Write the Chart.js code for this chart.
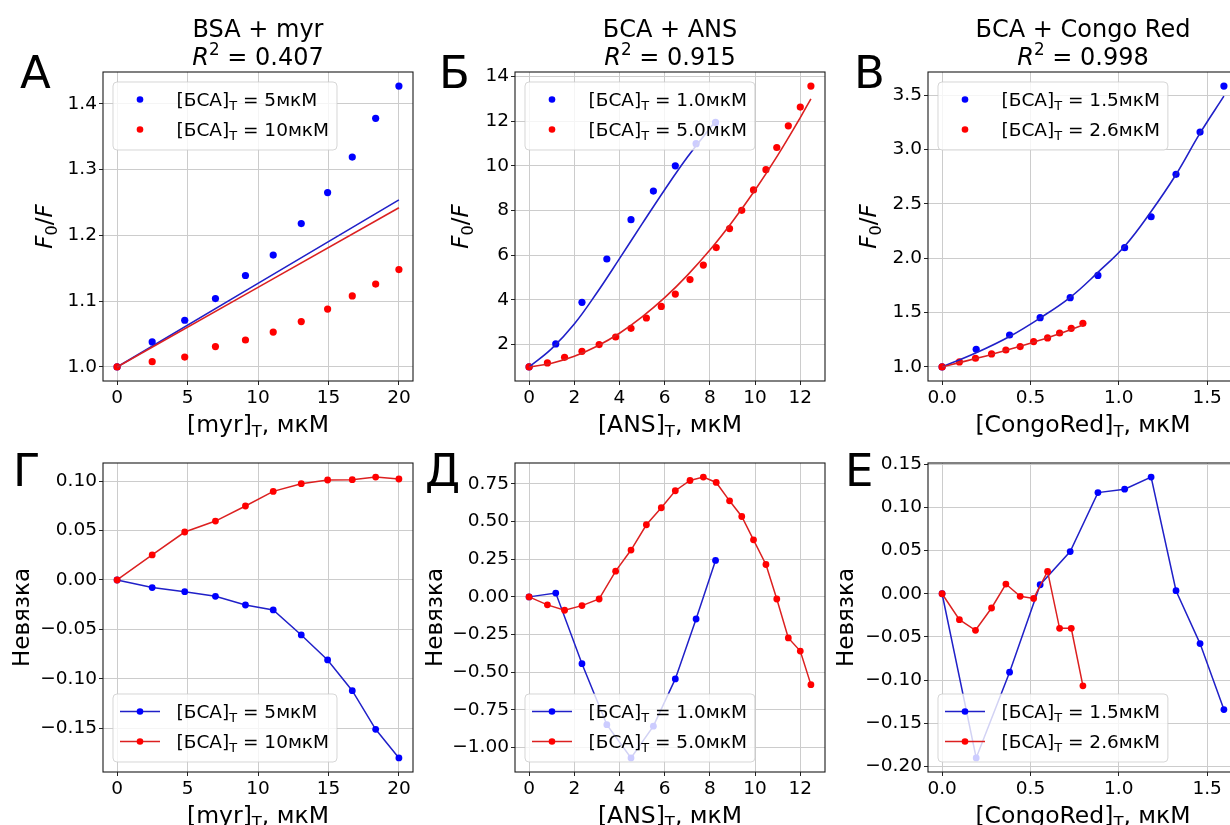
<!DOCTYPE html>
<html>
<head>
<meta charset="utf-8">
<script src="https://cdn.jsdelivr.net/npm/chart.js@4.4.1/dist/chart.umd.min.js"></script>
<style>
html, body { margin: 0; padding: 0; background: #ffffff; overflow: hidden; width: 1230px; height: 825px; }
#wrap { position: relative; width: 1250px; height: 825px; }
canvas { position: absolute; }
</style>
</head>
<body>
<div id="wrap">
<canvas id="cA"></canvas>
<canvas id="cB"></canvas>
<canvas id="cC"></canvas>
<canvas id="cD"></canvas>
<canvas id="cE"></canvas>
<canvas id="cF"></canvas>
</div>
<script>
// ---------- Panel А / Г : BSA + myr ----------
const myrX     = [0, 2.49, 4.80, 6.98, 9.11, 11.08, 13.07, 14.94, 16.69, 18.35, 20.0];
const myrF5    = [1.0, 1.038, 1.071, 1.104, 1.139, 1.170, 1.218, 1.265, 1.319, 1.378, 1.427];
const myrF10   = [1.0, 1.008, 1.015, 1.031, 1.041, 1.053, 1.069, 1.088, 1.108, 1.126, 1.148];
const myrFitX  = [0, 20];
const myrFit5  = [1.0, 1.254];
const myrFit10 = [1.0, 1.242];
const myrRes5  = [0, -0.0077, -0.0118, -0.0165, -0.0253, -0.0303, -0.0556, -0.0809, -0.112, -0.151, -0.180];
const myrRes10 = [0, 0.0253, 0.0485, 0.0596, 0.0748, 0.0896, 0.0974, 0.1011, 0.1014, 0.1041, 0.1021];

// ---------- Panel Б / Д : БСА + ANS ----------
const ansX1    = [0, 1.18, 2.34, 3.44, 4.51, 5.50, 6.47, 7.39, 8.25];
const ansF1    = [1.0, 2.03, 3.89, 5.83, 7.59, 8.87, 10.0, 10.99, 11.94];
const ansX5    = [0, 0.81, 1.57, 2.34, 3.10, 3.83, 4.51, 5.19, 5.85, 6.47, 7.12, 7.71, 8.28, 8.87, 9.41, 9.93, 10.48, 10.96, 11.47, 12.0, 12.47];
const ansF5    = [1.0, 1.18, 1.43, 1.70, 2.0, 2.34, 2.73, 3.19, 3.71, 4.26, 4.91, 5.56, 6.34, 7.19, 8.01, 8.92, 9.83, 10.82, 11.79, 12.63, 13.57];
const ansFitX1 = [0, 1, 2, 3, 4, 5, 6, 7, 8, 8.25];
const ansFit1  = [1.0, 1.82, 2.92, 4.32, 5.85, 7.4, 8.93, 10.38, 11.68, 12.0];
const ansFitX5 = [0, 1, 2, 3, 4, 5, 6, 7, 8, 9, 10, 11, 12, 12.47];
const ansFit5  = [1.0, 1.17, 1.48, 1.93, 2.51, 3.24, 4.10, 5.10, 6.23, 7.51, 8.92, 10.47, 12.16, 13.0];
const ansRes1  = [0, 0.025, -0.444, -0.849, -1.07, -0.859, -0.545, -0.147, 0.242];
const ansRes5  = [0, -0.053, -0.089, -0.058, -0.014, 0.171, 0.311, 0.479, 0.592, 0.705, 0.773, 0.796, 0.760, 0.638, 0.534, 0.379, 0.215, -0.014, -0.273, -0.360, -0.583];

// ---------- Panel В / Е : БСА + Congo Red ----------
const crX15    = [0, 0.193, 0.382, 0.555, 0.725, 0.882, 1.033, 1.183, 1.324, 1.460, 1.595];
const crF15    = [1.0, 1.162, 1.294, 1.453, 1.637, 1.842, 2.097, 2.381, 2.771, 3.160, 3.583];
const crX26    = [0, 0.098, 0.189, 0.280, 0.361, 0.442, 0.518, 0.597, 0.665, 0.731, 0.797];
const crF26    = [1.0, 1.046, 1.080, 1.120, 1.156, 1.187, 1.233, 1.267, 1.312, 1.355, 1.401];
const crFit15  = [1.0, 1.13, 1.28, 1.45, 1.64, 1.87, 2.11, 2.43, 2.77, 3.15, 3.49];
const crFit26  = [1.0, 1.04, 1.077, 1.115, 1.152, 1.19, 1.228, 1.268, 1.305, 1.345, 1.385];
const crRes15  = [0, -0.190, -0.0908, 0.0104, 0.0488, 0.117, 0.121, 0.135, 0.0035, -0.0577, -0.134];
const crRes26  = [0, -0.030, -0.0423, -0.0165, 0.0112, -0.003, -0.0054, 0.0258, -0.040, -0.040, -0.1065];

// ---------- tick labels ----------
const ticksMyrX  = [0, 5, 10, 15, 20];
const ticksMyrY  = [1.0, 1.1, 1.2, 1.3, 1.4];
const ticksAnsX  = [0, 2, 4, 6, 8, 10, 12];
const ticksAnsY  = [2, 4, 6, 8, 10, 12, 14];
const ticksCrX   = [0.0, 0.5, 1.0, 1.5];
const ticksCrY   = [1.0, 1.5, 2.0, 2.5, 3.0, 3.5];
const ticksResMyr = [-0.15, -0.10, -0.05, 0.0, 0.05, 0.10];
const ticksResAns = [-1.0, -0.75, -0.5, -0.25, 0.0, 0.25, 0.5, 0.75];
const ticksResCr  = [-0.20, -0.15, -0.10, -0.05, 0.0, 0.05, 0.10, 0.15];

// ---------- texts ----------
const concMyr = ['5', '10'];
const concAns = ['1.0', '5.0'];
const concCr  = ['1.5', '2.6'];
const titles  = ['BSA + myr', 'БСА + ANS', 'БСА + Congo Red'];
const r2vals  = ['0.407', '0.915', '0.998'];
const ligands = ['myr', 'ANS', 'CongoRed'];
const letters = ['А', 'Б', 'В', 'Г', 'Д', 'Е'];

const FONT = "'DejaVu Sans', 'Noto Sans', sans-serif";
const BLUE = '#0000ff', RED = '#ff0000';
const BLUE_L = '#2020c8', RED_L = '#dc2020';
const GRID = '#cccccc';
const TXT = '#000000';

function pts(xs, ys) { return xs.map((x, i) => ({ x: x, y: ys[i] })); }
function padRange(arrs) {
  let lo = Infinity, hi = -Infinity;
  arrs.forEach(a => a.forEach(v => { lo = Math.min(lo, v); hi = Math.max(hi, v); }));
  const m = (hi - lo) * 0.05;
  return [lo - m, hi + m];
}
function fmtTick(dec) {
  return v => { let s = Number(v).toFixed(dec); if (Math.abs(v) < 1e-9) s = (0).toFixed(dec); return s.replace('-', '\u2212'); };
}
function segFont(s, fs) {
  const size = (s.sub || s.sup) ? fs * 0.7 : fs;
  return (s.i ? 'italic ' : '') + size + 'px ' + FONT;
}
function richWidth(ctx, segs, fs) {
  let w = 0;
  for (const s of segs) { ctx.font = segFont(s, fs); w += ctx.measureText(s.t).width; }
  return w;
}
function drawRich(ctx, segs, x, y, fs, align) {
  const w = richWidth(ctx, segs, fs);
  let cx = align === 'center' ? x - w / 2 : (align === 'right' ? x - w : x);
  ctx.fillStyle = TXT; ctx.textBaseline = 'alphabetic'; ctx.textAlign = 'left';
  for (const s of segs) {
    ctx.font = segFont(s, fs);
    const dy = s.sub ? fs * 0.2 : (s.sup ? -fs * 0.4 : 0);
    ctx.fillText(s.t, cx, y + dy);
    cx += ctx.measureText(s.t).width;
  }
}
function legSegs(c) { return [{ t: '[БСА]' }, { t: 'T', sub: 1 }, { t: ' = ' + c + 'мкМ' }]; }

const deco = {
  id: 'deco',
  afterDatasetsDraw(chart, args, o) {
    const ctx = chart.ctx, a = chart.chartArea;
    ctx.save();
    ctx.strokeStyle = '#1a1a1a'; ctx.lineWidth = 1.1;
    ctx.strokeRect(a.left, a.top, a.right - a.left, a.bottom - a.top);
    // legend
    const fs = 18.5, h = 68;
    const bx = a.left + 10;
    const by = o.legTop ? a.top + 10 : a.bottom - 10 - h;
    const tw = Math.max(...o.conc.map(c => richWidth(ctx, legSegs(c), fs)));
    const w = 63.5 + tw + 8;
    ctx.beginPath();
    ctx.roundRect(bx, by, w, h, 4);
    ctx.fillStyle = 'rgba(255,255,255,0.8)'; ctx.fill();
    ctx.strokeStyle = 'rgba(204,204,204,0.8)'; ctx.lineWidth = 1; ctx.stroke();
    const cols = [BLUE, RED], lcols = [BLUE_L, RED_L];
    o.conc.forEach((c, i) => {
      const cy = by + 17.5 + 30 * i;
      if (o.legLine) {
        ctx.beginPath(); ctx.moveTo(bx + 7, cy); ctx.lineTo(bx + 47, cy);
        ctx.strokeStyle = lcols[i]; ctx.lineWidth = 1.5; ctx.stroke();
      }
      ctx.beginPath(); ctx.arc(bx + 27, cy, 3.3, 0, Math.PI * 2);
      ctx.fillStyle = cols[i]; ctx.fill();
      drawRich(ctx, legSegs(c), bx + 63.5, cy + 6.5, fs, 'left');
    });
    ctx.restore();
  },
  afterDraw(chart, args, o) {
    const ctx = chart.ctx, a = chart.chartArea;
    const cx = (a.left + a.right) / 2, cy = (a.top + a.bottom) / 2;
    ctx.save();
    // panel letter
    ctx.font = '45px ' + FONT; ctx.fillStyle = '#000'; ctx.textAlign = 'left'; ctx.textBaseline = 'alphabetic';
    const m = ctx.measureText(o.letter);
    ctx.fillText(o.letter, o.letterX + m.actualBoundingBoxLeft, a.top + o.letterDy);
    // title
    if (o.title) {
      drawRich(ctx, [{ t: o.title }], cx, a.top - 35, 24, 'center');
      drawRich(ctx, [{ t: 'R', i: 1 }, { t: '2', sup: 1 }, { t: ' = ' + o.r2 }], cx, a.top - 7, 24, 'center');
    }
    // x label
    drawRich(ctx, [{ t: '[' + o.lig + ']' }, { t: 'T', sub: 1 }, { t: ', мкМ' }], cx, a.bottom + 51, 23.5, 'center');
    // y label
    ctx.translate(a.left - o.yOff, cy);
    ctx.rotate(-Math.PI / 2);
    const ys = o.resid ? [{ t: 'Невязка' }] : [{ t: 'F', i: 1 }, { t: '0', sub: 1 }, { t: '/' }, { t: 'F', i: 1 }];
    drawRich(ctx, ys, 0, 0, 23, 'center');
    ctx.restore();
  }
};

function scat(xs, ys, col, order) {
  return { data: pts(xs, ys), showLine: false, pointRadius: 3.6, pointBorderWidth: 0, pointBackgroundColor: col, backgroundColor: col, order: order };
}
function fitLine(xs, ys, col, order) {
  return { data: pts(xs, ys), showLine: true, pointRadius: 0, borderColor: col, borderWidth: 1.6, tension: 0.4, fill: false, order: order };
}
function resLine(xs, ys, col, lcol, order) {
  return { data: pts(xs, ys), showLine: true, pointRadius: 3.4, pointBorderWidth: 0, pointBackgroundColor: col, borderColor: lcol, borderWidth: 1.5, fill: false, order: order };
}

const panels = [
  { id: 'cA', left: 0, top: 0, h: 445, row: 0, letter: letters[0], letterX: 20, title: titles[0], r2: r2vals[0], lig: ligands[0], yOff: 51, conc: concMyr,
    xT: ticksMyrX, yT: ticksMyrY, xDec: 0, yDec: 1,
    xAll: [myrX], yAll: [myrF5, myrF10],
    ds: [scat(myrX, myrF5, BLUE, 4), scat(myrX, myrF10, RED, 3), fitLine(myrFitX, myrFit5, BLUE_L, 2), fitLine(myrFitX, myrFit10, RED_L, 1)] },
  { id: 'cB', left: 412, top: 0, h: 445, row: 0, letter: letters[1], letterX: 31, title: titles[1], r2: r2vals[1], lig: ligands[1], yOff: 47, conc: concAns,
    xT: ticksAnsX, yT: ticksAnsY, xDec: 0, yDec: 0,
    xAll: [ansX1, ansX5], yAll: [ansF1, ansF5],
    ds: [scat(ansX1, ansF1, BLUE, 4), scat(ansX5, ansF5, RED, 3), fitLine(ansFitX1, ansFit1, BLUE_L, 2), fitLine(ansFitX5, ansFit5, RED_L, 1)] },
  { id: 'cC', left: 825, top: 0, h: 445, row: 0, letter: letters[2], letterX: 33, title: titles[2], r2: r2vals[2], lig: ligands[2], yOff: 52, conc: concCr,
    xT: ticksCrX, yT: ticksCrY, xDec: 1, yDec: 1,
    xAll: [crX15, crX26], yAll: [crF15, crF26],
    ds: [scat(crX15, crF15, BLUE, 4), scat(crX26, crF26, RED, 3), fitLine(crX15, crFit15, BLUE_L, 2), fitLine(crX26, crFit26, RED_L, 1)] },
  { id: 'cD', left: 0, top: 412, h: 413, row: 1, letter: letters[3], letterX: 17, lig: ligands[0], yOff: 74.5, conc: concMyr, resid: true,
    xT: ticksMyrX, yT: ticksResMyr, xDec: 0, yDec: 2,
    xAll: [myrX], yAll: [myrRes5, myrRes10],
    ds: [resLine(myrX, myrRes5, BLUE, BLUE_L, 2), resLine(myrX, myrRes10, RED, RED_L, 1)] },
  { id: 'cE', left: 412, top: 412, h: 413, row: 1, letter: letters[4], letterX: 15, lig: ligands[1], yOff: 73.3, conc: concAns, resid: true,
    xT: ticksAnsX, yT: ticksResAns, xDec: 0, yDec: 2,
    xAll: [ansX1, ansX5], yAll: [ansRes1, ansRes5],
    ds: [resLine(ansX1, ansRes1, BLUE, BLUE_L, 2), resLine(ansX5, ansRes5, RED, RED_L, 1)] },
  { id: 'cF', left: 825, top: 412, h: 413, row: 1, letter: letters[5], letterX: 24, lig: ligands[2], yOff: 75, conc: concCr, resid: true,
    xT: ticksCrX, yT: ticksResCr, xDec: 1, yDec: 2,
    xAll: [crX15, crX26], yAll: [crRes15, crRes26],
    ds: [resLine(crX15, crRes15, BLUE, BLUE_L, 2), resLine(crX26, crRes26, RED, RED_L, 1)] }
];

function axis(range, ticks, dec, fit) {
  return {
    type: 'linear', min: range[0], max: range[1], bounds: 'data',
    afterFit: fit,
    afterBuildTicks: s => { s.ticks = ticks.map(v => ({ value: v })); },
    grid: { color: GRID, lineWidth: 1, drawTicks: true, tickLength: 4, tickColor: '#222', tickWidth: 1 },
    border: { display: false },
    ticks: { font: { family: FONT, size: 18.5 }, color: TXT, padding: 2, maxRotation: 0, autoSkip: false, callback: fmtTick(dec) }
  };
}

panels.forEach(p => {
  const cv = document.getElementById(p.id);
  cv.width = 420; cv.height = p.h;
  cv.style.left = p.left + 'px'; cv.style.top = p.top + 'px';
  const T = p.row === 0 ? 72 : 51;
  new Chart(cv, {
    type: 'scatter',
    data: { datasets: p.ds },
    options: {
      responsive: false, animation: false, events: [],
      layout: { padding: { left: 0, top: T, right: 7, bottom: p.h - T - 309 - 31 } },
      plugins: {
        legend: { display: false }, tooltip: { enabled: false },
        deco: { letter: p.letter, letterX: p.letterX, letterDy: p.row === 0 ? 16 : 23, title: p.title, r2: p.r2, lig: p.lig, yOff: p.yOff,
                conc: p.conc, legTop: p.row === 0, legLine: p.row === 1, resid: !!p.resid }
      },
      scales: {
        x: axis(padRange(p.xAll), p.xT, p.xDec, s => { s.height = 31; }),
        y: axis(padRange(p.yAll), p.yT, p.yDec, s => { s.width = 103; })
      }
    },
    plugins: [deco]
  });
});
</script>
</body>
</html>
